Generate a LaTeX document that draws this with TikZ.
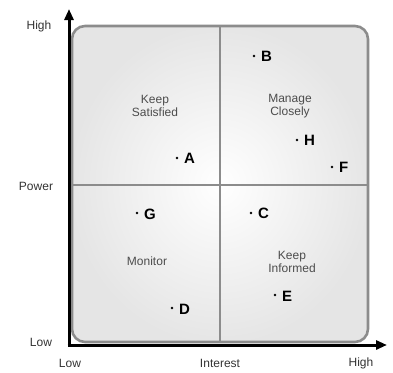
\documentclass[tikz,border=0pt]{standalone}
\usepackage{fontspec}
\setmainfont{Liberation Sans}
\usetikzlibrary{arrows.meta}
\begin{document}
\begin{tikzpicture}[x=1pt,y=-1pt,
  quad/.style={font=\fontsize{12}{13}\selectfont, text=black!70, align=center, inner sep=0pt},
  axlabel/.style={font=\fontsize{12}{13}\selectfont, text=black!80, inner sep=0pt},
  pt/.style={circle, fill=black, inner sep=0pt, minimum size=2.6pt},
  lett/.style={font=\fontsize{15}{15}\selectfont\bfseries, inner sep=0pt, anchor=west},
  axis/.style={line width=3pt, -{Triangle[length=11pt,width=9pt]}}
]
\useasboundingbox (0,0) rectangle (393,372);
% matrix background with rounded frame
\shade[rounded corners=13pt, inner color=white, outer color=black!10,
  shading=radial] (72,26) rectangle (368,342);
\draw[black!45, line width=2.6pt, rounded corners=13pt] (72,26) rectangle (368,342);
\draw[black!45, line width=2.4pt] (220,26) -- (220,342);
\draw[black!45, line width=2.4pt] (72,185) -- (368,185);
% axes
\coordinate (o) at (69,345);
\coordinate (ytip) at (69,9);
\coordinate (xtip) at (387,345);
\draw[axis] (o) ++(0,1.5) -- (ytip);
\draw[axis] (o) ++(-1.5,0) -- (xtip);
% axis labels
\node[axlabel] (hiY) at (39,26) {High};
\node[axlabel] (pow) at (36,186) {Power};
\node[axlabel] (loY) at (41,342) {Low};
\node[axlabel] (loX) at (70,363) {Low};
\node[axlabel] (int) at (220,363) {Interest};
\node[axlabel] (hiX) at (361,363) {High};
% quadrant names
\node[quad] (ks) at (155,106) {Keep\\Satisfied};
\node[quad] (mc) at (290,106) {Manage\\Closely};
\node[quad] (mo) at (147,261) {Monitor};
\node[quad] (ki) at (292,262) {Keep\\Informed};
% stakeholders
\node[pt] (pB) at (254,56) {}; \node[lett] (B) at (261,56) {B};
\node[pt] (pH) at (297,140) {}; \node[lett] (H) at (304,140) {H};
\node[pt] (pF) at (332,167) {}; \node[lett] (F) at (339,167) {F};
\node[pt] (pA) at (177,158) {}; \node[lett] (A) at (184,158) {A};
\node[pt] (pG) at (137,213) {}; \node[lett] (G) at (144,214) {G};
\node[pt] (pC) at (251,213) {}; \node[lett] (C) at (258,213) {C};
\node[pt] (pE) at (275,295) {}; \node[lett] (E) at (282,296) {E};
\node[pt] (pD) at (172,308) {}; \node[lett] (D) at (179,309) {D};
\end{tikzpicture}
\end{document}
